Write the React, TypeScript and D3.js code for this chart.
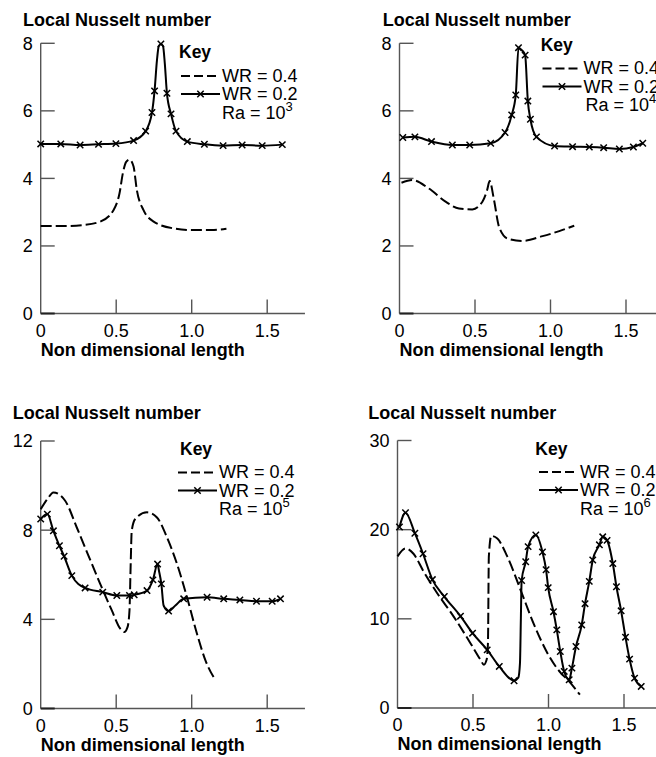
import React from 'react';
import * as d3 from 'd3';

// Ra = 10^3
const ra3Wr04X = [0, 0.15, 0.283, 0.394, 0.482, 0.522, 0.544, 0.566, 0.589, 0.615, 0.637, 0.681, 0.748, 0.88, 1.013, 1.13, 1.23];
const ra3Wr04Y = [2.59, 2.59, 2.62, 2.72, 3.06, 3.56, 4.15, 4.49, 4.56, 4.35, 3.65, 3.06, 2.72, 2.52, 2.47, 2.47, 2.51];
const ra3Wr02X = [0, 0.133, 0.261, 0.383, 0.498, 0.615, 0.695, 0.737, 0.754, 0.77, 0.782, 0.796, 0.81, 0.822, 0.836, 0.863, 0.896, 0.971, 1.084, 1.208, 1.334, 1.467, 1.6];
const ra3Wr02Y = [5.02, 5.02, 4.99, 5.01, 5.03, 5.12, 5.4, 5.95, 6.59, 7.5, 7.92, 7.98, 7.92, 7.4, 6.52, 5.91, 5.4, 5.09, 5.01, 4.97, 4.99, 4.97, 5.0];
const ra3Wr02Mark = [1, 1, 1, 1, 1, 1, 1, 1, 1, 0, 0, 1, 0, 0, 1, 1, 1, 1, 1, 1, 1, 1, 1];

// Ra = 10^4
const ra4Wr04X = [0.013, 0.084, 0.195, 0.305, 0.394, 0.482, 0.549, 0.58, 0.597, 0.626, 0.659, 0.715, 0.814, 0.947, 1.058, 1.157];
const ra4Wr04Y = [3.87, 3.95, 3.7, 3.31, 3.11, 3.08, 3.31, 3.65, 3.92, 3.36, 2.57, 2.22, 2.15, 2.29, 2.44, 2.6];
const ra4Wr02X = [0.022, 0.102, 0.212, 0.35, 0.465, 0.604, 0.699, 0.743, 0.77, 0.788, 0.81, 0.832, 0.85, 0.867, 0.907, 1.027, 1.146, 1.257, 1.352, 1.456, 1.549, 1.611];
const ra4Wr02Y = [5.21, 5.23, 5.09, 4.99, 4.99, 5.04, 5.36, 5.88, 6.47, 7.87, 7.8, 7.65, 6.29, 5.75, 5.23, 4.96, 4.94, 4.93, 4.91, 4.87, 4.93, 5.04];
const ra4Wr02Mark = [1, 1, 1, 1, 1, 1, 1, 1, 1, 1, 0, 1, 1, 1, 1, 1, 1, 1, 1, 1, 1, 1];

// Ra = 10^5
const ra5Wr04X = [0, 0.044, 0.084, 0.162, 0.239, 0.316, 0.394, 0.471, 0.527, 0.553, 0.575, 0.588, 0.596, 0.603, 0.626, 0.704, 0.77, 0.836, 0.903, 0.969, 1.035, 1.091, 1.157];
const ra5Wr04Y = [8.94, 9.39, 9.69, 9.32, 8.12, 6.86, 5.59, 4.4, 3.58, 3.43, 3.65, 4.4, 6.5, 7.98, 8.5, 8.8, 8.57, 7.68, 6.48, 4.99, 3.35, 2.16, 1.27];
const ra5Wr02X = [0, 0.044, 0.084, 0.124, 0.155, 0.206, 0.294, 0.411, 0.504, 0.588, 0.619, 0.704, 0.743, 0.774, 0.783, 0.799, 0.814, 0.847, 0.892, 0.947, 1.102, 1.212, 1.319, 1.429, 1.533, 1.588];
const ra5Wr02Y = [8.5, 8.72, 7.97, 7.3, 6.83, 5.96, 5.41, 5.22, 5.07, 5.07, 5.1, 5.29, 5.77, 6.48, 6.19, 5.59, 4.62, 4.37, 4.62, 4.92, 4.99, 4.92, 4.87, 4.81, 4.81, 4.92];
const ra5Wr02Mark = [1, 1, 1, 1, 1, 1, 1, 1, 1, 1, 1, 1, 1, 1, 0, 1, 0, 1, 0, 1, 1, 1, 1, 1, 1, 1];

// Ra = 10^6
const ra6Wr04X = [0, 0.053, 0.106, 0.173, 0.262, 0.372, 0.483, 0.55, 0.572, 0.59, 0.599, 0.605, 0.621, 0.661, 0.727, 0.816, 0.905, 0.993, 1.082, 1.126, 1.208];
const ra6Wr04Y = [17.0, 17.9, 17.3, 15.3, 12.9, 10.25, 7.27, 5.4, 4.85, 5.4, 7.27, 17.0, 19.3, 19.0, 17.0, 13.2, 9.32, 6.15, 3.91, 3.17, 1.49];
const ra6Wr02X = [0.013, 0.053, 0.115, 0.169, 0.231, 0.31, 0.417, 0.497, 0.594, 0.674, 0.772, 0.8, 0.811, 0.817, 0.822, 0.849, 0.865, 0.916, 0.96, 0.984, 0.998, 1.033, 1.055, 1.078, 1.104, 1.137, 1.155, 1.182, 1.22, 1.242, 1.27, 1.293, 1.337, 1.359, 1.388, 1.426, 1.45, 1.481, 1.51, 1.537, 1.57, 1.614];
const ra6Wr02Y = [20.3, 21.9, 19.6, 17.3, 14.4, 12.5, 10.3, 8.39, 6.52, 4.66, 3.06, 3.4, 5.0, 10.0, 14.3, 16.4, 18.1, 19.4, 17.5, 15.5, 13.5, 10.8, 8.76, 6.34, 4.1, 3.17, 4.47, 6.9, 9.32, 11.7, 14.2, 16.6, 18.3, 19.2, 18.8, 16.2, 13.6, 10.9, 7.94, 5.48, 3.35, 2.42];
const ra6Wr02Mark = [1, 1, 1, 1, 1, 1, 1, 1, 1, 1, 1, 0, 0, 0, 1, 1, 1, 1, 1, 1, 1, 1, 1, 1, 1, 1, 1, 1, 1, 1, 1, 1, 1, 1, 1, 1, 1, 1, 1, 1, 1, 1];

const xTicks = [0, 0.5, 1.0, 1.5];
const xTickLabels = ['0', '0.5', '1.0', '1.5'];
const yTicksSmall = [0, 2, 4, 6, 8];
const yTicks5 = [0, 4, 8, 12];
const yTicks6 = [0, 10, 20, 30];
const raExponents = ['3', '4', '5', '6'];
const seriesNames = ['WR = 0.4', 'WR = 0.2'];

const panels = [
  { exp: raExponents[0], yMax: 8, yTicks: yTicksSmall, a: [ra3Wr04X, ra3Wr04Y], b: [ra3Wr02X, ra3Wr02Y, ra3Wr02Mark] },
  { exp: raExponents[1], yMax: 8, yTicks: yTicksSmall, a: [ra4Wr04X, ra4Wr04Y], b: [ra4Wr02X, ra4Wr02Y, ra4Wr02Mark] },
  { exp: raExponents[2], yMax: 12, yTicks: yTicks5, a: [ra5Wr04X, ra5Wr04Y], b: [ra5Wr02X, ra5Wr02Y, ra5Wr02Mark] },
  { exp: raExponents[3], yMax: 30, yTicks: yTicks6, a: [ra6Wr04X, ra6Wr04Y], b: [ra6Wr02X, ra6Wr02Y, ra6Wr02Mark] },
];

// where each panel sits on the page
const layouts = [
  { x0: 40.7, yTop: 43.3, yBot: 313.5, titleX: 23, titleY: 26, keyX: 179, keyY: 58, legX: 181, legY: 81.5, raDx: 0 },
  { x0: 399.5, yTop: 43.3, yBot: 313.5, titleX: 382.7, titleY: 26, keyX: 540.7, keyY: 51, legX: 542.5, legY: 74, raDx: 2 },
  { x0: 40.7, yTop: 441, yBot: 708.5, titleX: 12.7, titleY: 418.5, keyX: 180, keyY: 455, legX: 178, legY: 478, raDx: 0 },
  { x0: 397.5, yTop: 440.5, yBot: 708, titleX: 368.3, titleY: 419, keyX: 535.3, keyY: 455, legX: 539, legY: 477.5, raDx: 0 },
];

const FONT = '"Liberation Sans", Arial, Helvetica, sans-serif';
const AXIS = '#555';
const PX_PER_UNIT = 151;
const TICK = 14;

function Cross({ x, y, s = 3.2 }) {
  return (
    <path d={`M${x - s},${y - s}L${x + s},${y + s}M${x - s},${y + s}L${x + s},${y - s}`} stroke="#000" strokeWidth={1.5} fill="none" />
  );
}

function Panel({ p, l }) {
  const x = d3.scaleLinear().domain([0, 1.75]).range([l.x0, l.x0 + 1.75 * PX_PER_UNIT]);
  const y = d3.scaleLinear().domain([0, p.yMax]).range([l.yBot, l.yTop]);
  const line = d3.line<[number, number]>().x(d => x(d[0])).y(d => y(d[1])).curve(d3.curveMonotoneX);

  const ptsA = p.a[0].map((v, i) => [v, p.a[1][i]] as [number, number]);
  const ptsB = p.b[0].map((v, i) => [v, p.b[1][i]] as [number, number]);
  const marks = ptsB.filter((_, i) => p.b[2][i]);

  const lineLen = 39;
  const textX = l.legX + lineLen + 2;
  const gap = 18.5;

  return (
    <g fontFamily={FONT}>
      <text x={l.titleX} y={l.titleY} fontSize={18} fontWeight="bold">Local Nusselt number</text>
      {/* axes */}
      <line x1={l.x0} x2={l.x0} y1={l.yTop} y2={l.yBot} stroke={AXIS} strokeWidth={1.4} />
      <line x1={l.x0} x2={x(1.75)} y1={l.yBot} y2={l.yBot} stroke={AXIS} strokeWidth={1.4} />
      {p.yTicks.map(t => (
        <g key={'y' + t}>
          <line x1={l.x0} x2={l.x0 + TICK} y1={y(t)} y2={y(t)} stroke={t === 0 ? '#222' : AXIS} strokeWidth={t === 0 ? 2 : 1.4} />
          <text x={l.x0 - 8} y={y(t)} dy="0.36em" textAnchor="end" fontSize={18}>{t}</text>
        </g>
      ))}
      {xTicks.map((t, i) => (
        <g key={'x' + t}>
          {t > 0 && <line x1={x(t)} x2={x(t)} y1={l.yBot} y2={l.yBot - TICK} stroke={AXIS} strokeWidth={1.4} />}
          <text x={x(t)} y={l.yBot + 23} textAnchor="middle" fontSize={18}>{xTickLabels[i]}</text>
        </g>
      ))}
      <text x={l.x0} y={l.yBot + 42} fontSize={18} fontWeight="bold">Non dimensional length</text>

      {/* data */}
      <path d={line(ptsA) || ''} fill="none" stroke="#000" strokeWidth={2} strokeDasharray="11,4" />
      <path d={line(ptsB) || ''} fill="none" stroke="#000" strokeWidth={2} />
      {marks.map((d, i) => <Cross key={i} x={x(d[0])} y={y(d[1])} />)}

      {/* key */}
      <text x={l.keyX} y={l.keyY} fontSize={17.5} fontWeight="bold">Key</text>
      <line x1={l.legX} x2={l.legX + lineLen} y1={l.legY - 5.5} y2={l.legY - 5.5} stroke="#000" strokeWidth={1.8} strokeDasharray="9,4" />
      <text x={textX} y={l.legY} fontSize={18}>{seriesNames[0]}</text>
      <line x1={l.legX} x2={l.legX + lineLen} y1={l.legY + gap - 6} y2={l.legY + gap - 6} stroke="#000" strokeWidth={1.8} />
      <Cross x={l.legX + lineLen / 2} y={l.legY + gap - 6} />
      <text x={textX} y={l.legY + gap} fontSize={18}>{seriesNames[1]}</text>
      <text x={textX + l.raDx} y={l.legY + gap * 2} fontSize={18}>
        Ra = 10<tspan dy={-8} fontSize={13}>{p.exp}</tspan>
      </text>
    </g>
  );
}

export default function App() {
  return (
    <svg width={656} height={757} style={{ position: 'absolute', left: 0, top: 0, background: '#fff' }}>
      {panels.map((p, i) => <Panel key={i} p={p} l={layouts[i]} />)}
    </svg>
  );
}
